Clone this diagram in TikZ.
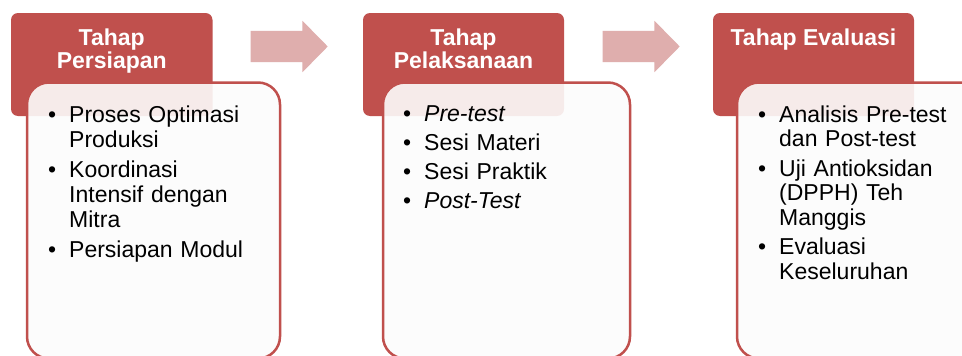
\documentclass[tikz,border=0pt]{standalone}
\usepackage{fontspec}
\setmainfont{Liberation Sans}
\usetikzlibrary{shapes.arrows}
\definecolor{stagered}{RGB}{192,80,77}
\definecolor{arrowpink}{RGB}{223,174,173}
\definecolor{cardfill}{RGB}{252,252,252}
% one bullet item with a hanging indent
\newcommand\stageitem[1]{\par\hangindent=21pt\hangafter=1\noindent\makebox[21pt][l]{\textbullet}#1\par}
\tikzset{
  stagehead/.style={fill=stagered, draw=none, rounded corners=7pt, inner sep=0pt,
    minimum height=103pt},
  stagebody/.style={draw=stagered, line width=2.5pt, fill=cardfill, fill opacity=0.9,
    rounded corners=22pt, inner sep=0pt, minimum height=276pt},
  stagetitle/.style={text=white, font=\fontsize{23}{23}\selectfont\bfseries,
    align=center, inner sep=0pt, anchor=north},
  stagelist/.style={text=black, text width=210pt, align=left, inner sep=0pt,
    anchor=north west},
  stagearrow/.style={single arrow, fill=arrowpink, draw=none, inner sep=0pt,
    minimum height=77pt, single arrow head extend=10pt,
    single arrow head indent=0pt, single arrow tip angle=91}
}
\begin{document}
\begin{tikzpicture}[x=1pt, y=-1pt]
  \useasboundingbox (0,0) rectangle (962,356);
  \clip (0,0) rectangle (962,356);
  \fill[white] (0,0) rectangle (962,356);

  % stage headers
  \node[stagehead, minimum width=201.5pt] (h1) at (111.75,64.5) {};
  \node[stagehead, minimum width=201pt]   (h2) at (463.5,64.5) {};
  \node[stagehead, minimum width=201pt]   (h3) at (813.5,64.5) {};

  \node[stagetitle] (t1) at (111.75,28.5) {Tahap\\Persiapan};
  \node[stagetitle] (t2) at (463.5,28.5) {Tahap\\Pelaksanaan};
  \node[stagetitle] (t3) at (813.5,28.5) {Tahap Evaluasi};

  % content cards, laid over the headers
  \node[stagebody, minimum width=253pt] (b1) at (153.5,220.5) {};
  \node[stagebody, minimum width=247pt] (b2) at (506.5,220.5) {};
  \node[stagebody, minimum width=247pt] (b3) at (860.5,220.5) {};

  % block arrows between the stages (shaft 31pt, head 51pt)
  \node[stagearrow] (a1) at (281.5,46.5) {\rule{0pt}{31pt}};
  \node[stagearrow] (a2) at (633.5,46.5) {\rule{0pt}{31pt}};

  % item lists
  \node[stagelist, font=\fontsize{23}{25}\selectfont] (l1) at (48,97.5) {%
    \stageitem{Proses Optimasi\newline Produksi}\vspace{5pt}%
    \stageitem{Koordinasi\newline Intensif dengan\newline Mitra}\vspace{5pt}%
    \stageitem{Persiapan Modul}};
  \node[stagelist, font=\fontsize{23}{24}\selectfont] (l2) at (403,97.5) {%
    \stageitem{\textit{Pre-test}}\vspace{5pt}%
    \stageitem{Sesi Materi}\vspace{5pt}%
    \stageitem{Sesi Praktik}\vspace{5pt}%
    \stageitem{\textit{Post-Test}}};
  \node[stagelist, font=\fontsize{23}{24.5}\selectfont] (l3) at (758,97.5) {%
    \stageitem{Analisis Pre-test\newline dan Post-test}\vspace{5pt}%
    \stageitem{Uji Antioksidan\newline (DPPH) Teh\newline Manggis}\vspace{5pt}%
    \stageitem{Evaluasi\newline Keseluruhan}};
\end{tikzpicture}
\end{document}
